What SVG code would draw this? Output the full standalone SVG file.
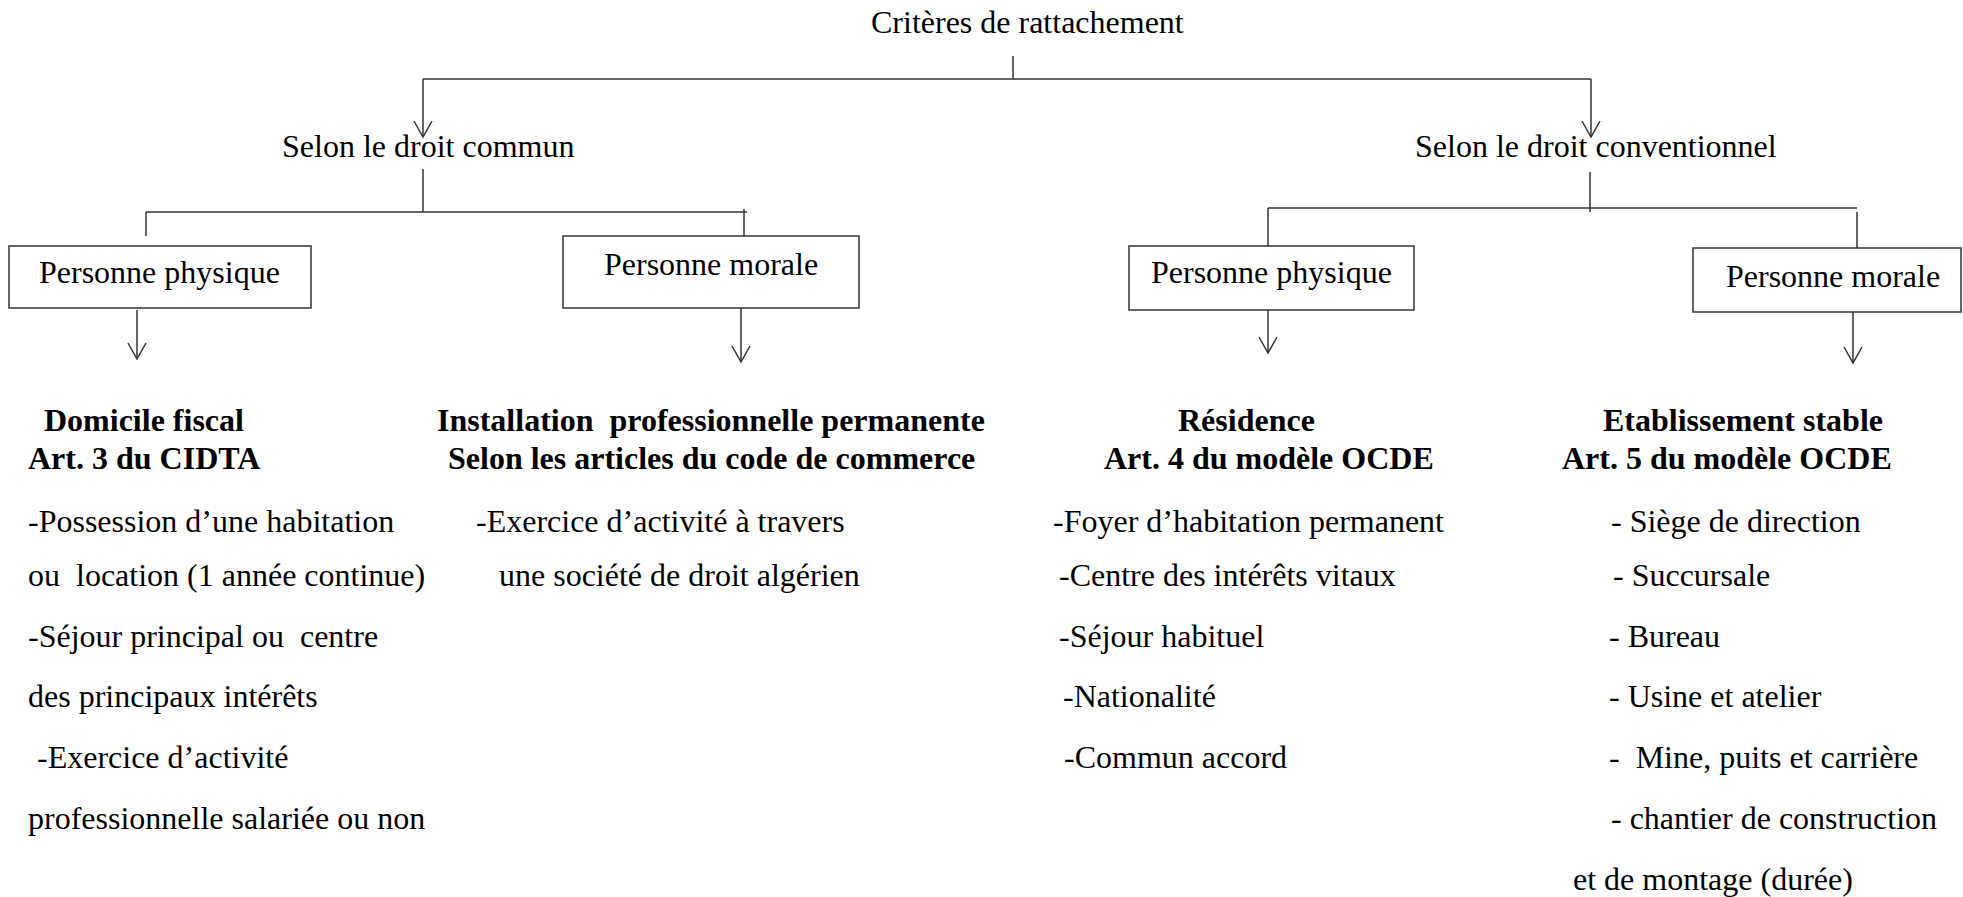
<svg xmlns="http://www.w3.org/2000/svg" width="1963" height="897" viewBox="0 0 1963 897">
<style>
text { font-family: "Liberation Serif", "Times New Roman", serif; font-size: 32px; fill: #000; white-space: pre; }
.b { font-weight: bold; }
.box { fill: #fff; stroke: #333; stroke-width: 1.5; }
.ln { stroke: #333; stroke-width: 1.5; fill: none; }
.ar { stroke: #333; stroke-width: 1.5; fill: none; marker-end: url(#v); }
</style>
<defs>
<marker id="v" markerUnits="userSpaceOnUse" markerWidth="20" markerHeight="20" refX="0" refY="0" orient="auto" overflow="visible">
<path d="M-16,-9 L0,0 L-16,9" fill="none" stroke="#333" stroke-width="1.5"/>
</marker>
</defs>
<rect width="1963" height="897" fill="#fff"/>

<g id="connectors">
<line class="ln" x1="1013" y1="56" x2="1013" y2="79"/>
<line class="ln" x1="423" y1="79" x2="1591" y2="79"/>
<line class="ar" x1="423" y1="79" x2="423" y2="137"/>
<line class="ar" x1="1591" y1="79" x2="1591" y2="137"/>
<line class="ln" x1="423" y1="169" x2="423" y2="212"/>
<line class="ln" x1="146" y1="212" x2="747" y2="212"/>
<line class="ln" x1="146" y1="212" x2="146" y2="236"/>
<line class="ln" x1="744" y1="209" x2="744" y2="236"/>
<line class="ln" x1="1590" y1="172" x2="1590" y2="212"/>
<line class="ln" x1="1268" y1="208" x2="1857" y2="208"/>
<line class="ln" x1="1268" y1="208" x2="1268" y2="246"/>
<line class="ln" x1="1857" y1="212" x2="1857" y2="248"/>
<line class="ar" x1="137" y1="310" x2="137" y2="359"/>
<line class="ar" x1="741" y1="308" x2="741" y2="362"/>
<line class="ar" x1="1268" y1="310" x2="1268" y2="353"/>
<line class="ar" x1="1853" y1="312" x2="1853" y2="363"/>
</g>

<g id="root"><text x="871" y="33">Critères de rattachement</text></g>
<g id="droit-commun"><text x="282" y="157">Selon le droit commun</text></g>
<g id="droit-conventionnel"><text x="1415" y="157">Selon le droit conventionnel</text></g>

<g id="pp-commun">
<rect class="box" x="9" y="246" width="302" height="62"/>
<text x="39" y="283">Personne physique</text>
</g>
<g id="pm-commun">
<rect class="box" x="563" y="236" width="296" height="72"/>
<text x="604" y="275">Personne morale</text>
</g>
<g id="pp-conv">
<rect class="box" x="1129" y="246" width="285" height="64"/>
<text x="1151" y="283">Personne physique</text>
</g>
<g id="pm-conv">
<rect class="box" x="1693" y="248" width="268" height="64"/>
<text x="1726" y="287">Personne morale</text>
</g>

<g id="domicile">
<text class="b" x="44" y="431">Domicile fiscal</text>
<text class="b" x="28" y="469">Art. 3 du CIDTA</text>
<text x="28" y="532">-Possession d’une habitation</text>
<text x="28" y="586">ou  location (1 année continue)</text>
<text x="28" y="647">-Séjour principal ou  centre</text>
<text x="28" y="707">des principaux intérêts</text>
<text x="37" y="768">-Exercice d’activité</text>
<text x="28" y="829">professionnelle salariée ou non</text>
</g>

<g id="installation">
<text class="b" x="437" y="431">Installation  professionnelle permanente</text>
<text class="b" x="448" y="469">Selon les articles du code de commerce</text>
<text x="476" y="532">-Exercice d’activité à travers</text>
<text x="499" y="586">une société de droit algérien</text>
</g>

<g id="residence">
<text class="b" x="1178" y="431">Résidence</text>
<text class="b" x="1104" y="469">Art. 4 du modèle OCDE</text>
<text x="1053" y="532">-Foyer d’habitation permanent</text>
<text x="1059" y="586">-Centre des intérêts vitaux</text>
<text x="1059" y="647">-Séjour habituel</text>
<text x="1063" y="707">-Nationalité</text>
<text x="1064" y="768">-Commun accord</text>
</g>

<g id="etablissement">
<text class="b" x="1603" y="431">Etablissement stable</text>
<text class="b" x="1562" y="469">Art. 5 du modèle OCDE</text>
<text x="1611" y="532">- Siège de direction</text>
<text x="1613" y="586">- Succursale</text>
<text x="1609" y="647">- Bureau</text>
<text x="1609" y="707">- Usine et atelier</text>
<text x="1609" y="768">-  Mine, puits et carrière</text>
<text x="1611" y="829">- chantier de construction</text>
<text x="1573" y="890">et de montage (durée)</text>
</g>
</svg>
